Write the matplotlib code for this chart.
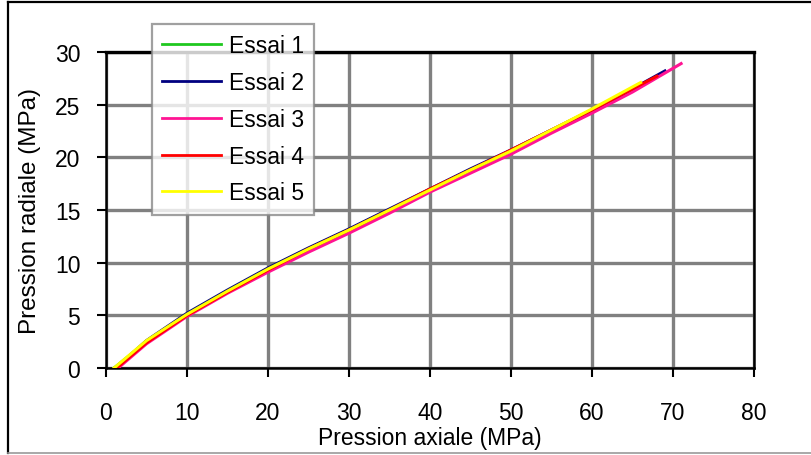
import matplotlib
matplotlib.use("Agg")
import matplotlib.pyplot as plt
from matplotlib.lines import Line2D

plt.rcParams['font.family'] = ['Liberation Sans', 'DejaVu Sans']

labels = ["Essai 1", "Essai 2", "Essai 3", "Essai 4", "Essai 5"]
colors = ["#1fc81f", "#000080", "#ff1493", "#ff0000", "#ffff00"]

x1 = [1, 5, 10, 15, 20, 25, 30, 35, 40, 45, 50, 55, 60, 65, 67]
y1 = [0, 2.5, 5.1, 7.3, 9.3, 11.2, 13.0, 14.9, 16.9, 18.7, 20.6, 22.5, 24.4, 26.4, 27.2]
x2 = [1.2, 5, 10, 15, 20, 25, 30, 35, 40, 45, 50, 55, 60, 65, 69]
y2 = [0, 2.6, 5.2, 7.4, 9.5, 11.4, 13.2, 15.1, 17.0, 18.9, 20.7, 22.6, 24.5, 26.5, 28.2]
x3 = [1.5, 5, 10, 15, 20, 25, 30, 35, 40, 45, 50, 55, 60, 65, 71]
y3 = [0, 2.3, 4.9, 7.1, 9.1, 11.0, 12.8, 14.7, 16.7, 18.5, 20.3, 22.3, 24.2, 26.2, 28.9]
x4 = [1.3, 5, 10, 15, 20, 25, 30, 35, 40, 45, 50, 55, 60, 65, 68]
y4 = [0, 2.4, 5.0, 7.2, 9.3, 11.3, 13.1, 15.0, 17.0, 18.8, 20.7, 22.6, 24.5, 26.5, 27.7]
x5 = [1, 5, 10, 15, 20, 25, 30, 35, 40, 45, 50, 55, 60, 66]
y5 = [0, 2.6, 5.1, 7.3, 9.4, 11.3, 13.1, 15.0, 16.9, 18.8, 20.6, 22.6, 24.6, 27.1]

xs = [x1, x2, x3, x4, x5]
ys = [y1, y2, y3, y4, y5]

xticks = [0, 10, 20, 30, 40, 50, 60, 70, 80]
yticks = [0, 5, 10, 15, 20, 25, 30]

FS = 16.5

fig = plt.figure(figsize=(8.12, 4.56), dpi=100)
ax = fig.add_axes([106/812, 1-369/456, (754-106)/812, (369-53)/456])

for x, y, c, lab in zip(xs, ys, colors, labels):
    ax.plot(x, y, color=c, lw=2.2, label=lab, zorder=3)

ax.set_xlim(0, 80)
ax.set_ylim(0, 30)
ax.set_xticks(xticks)
ax.set_yticks(yticks)
ax.grid(True, color='#808080', lw=2.4, zorder=0)
ax.set_axisbelow(True)
for s in ax.spines.values():
    s.set_color('black')
    s.set_linewidth(1.8)
ax.spines['top'].set_linewidth(2.4)
ax.tick_params(axis='both', direction='out', length=6.5, width=1.5, labelsize=FS, colors='black')
ax.tick_params(axis='y', pad=12)
ax.tick_params(axis='x', pad=17)

ax.set_xlabel("Pression axiale (MPa)", fontsize=FS, labelpad=2)
ax.set_ylabel("Pression radiale (MPa)", fontsize=17.5)
ax.yaxis.set_label_coords((41-106)/648, 0.5)

leg = ax.legend(loc='upper left', bbox_to_anchor=(152/812, 1-25/456),
                bbox_transform=fig.transFigure, fontsize=FS, frameon=True,
                fancybox=False, shadow=False, borderaxespad=0, borderpad=0.45,
                handlelength=2.55, handletextpad=0.35, labelspacing=0.6)
leg.get_frame().set_edgecolor('#888888')
leg.get_frame().set_linewidth(1.6)
for h in leg.get_lines():
    h.set_linewidth(2)

# figure frame
fig.add_artist(Line2D([8/812, 8/812], [1-3/456, 1-454/456], transform=fig.transFigure, color='black', lw=1.6))
fig.add_artist(Line2D([8/812, 1], [1-3/456, 1-3/456], transform=fig.transFigure, color='black', lw=1.6))
fig.add_artist(Line2D([8/812, 1], [1-454/456, 1-454/456], transform=fig.transFigure, color='#999999', lw=1.2))

fig.savefig("out.png", dpi=100)
